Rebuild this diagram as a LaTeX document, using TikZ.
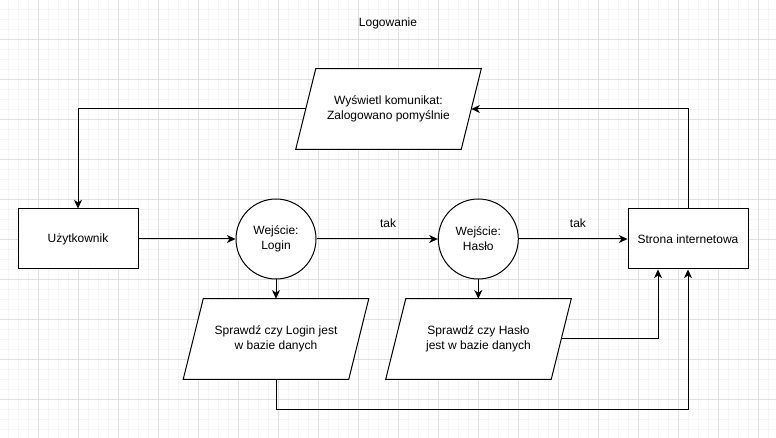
\documentclass[tikz,border=0pt]{standalone}
\usepackage{fontspec}
\setmainfont{Liberation Sans}
\usetikzlibrary{arrows.meta}
\pgfdeclarelayer{background}
\pgfsetlayers{background,main}
\begin{document}
\begin{tikzpicture}[x=0.75pt,y=-0.75pt,
  every node/.style={font=\fontsize{9}{11.25}\selectfont, text=black},
  box/.style={draw, line width=0.75pt, fill=white, minimum width=90pt, minimum height=45pt, inner sep=0pt, align=center},
  circ/.style={draw, circle, line width=0.75pt, fill=white, minimum size=60pt, inner sep=0pt, align=center},
  paracore/.style={minimum width=123.75pt, minimum height=60pt, inner sep=0pt, align=center},
  paraline/.style={draw, line width=0.75pt, fill=white},
  conn/.style={line width=0.75pt, -{Stealth[length=6.5pt,width=6pt,inset=2pt]}},
  minorline/.style={black!4, line width=0.75pt},
  majorline/.style={black!12, line width=0.75pt},
  lbl/.style={inner sep=0pt}
]
\useasboundingbox (0,0) rectangle (776,438);
\begin{pgfonlayer}{background}
  \clip (0,0) rectangle (776,438);
  \fill[white] (0,0) rectangle (776,438);
  \foreach \i in {0,...,77} \draw[minorline] (8.3+10*\i,0) -- (8.3+10*\i,438);
  \foreach \j in {0,...,43} \draw[minorline] (0,9.3+10*\j) -- (776,9.3+10*\j);
  \foreach \i in {0,...,19} \draw[majorline] (38.3+40*\i,0) -- (38.3+40*\i,438);
  \foreach \j in {0,...,10} \draw[majorline] (0,39.3+40*\j) -- (776,39.3+40*\j);
\end{pgfonlayer}

\node (title) at (388,23) {Logowanie};
\node[box] (user) at (78,239) {Użytkownik};
\node[circ] (login) at (276,239) {Wejście:\\Login};
\node[circ] (haslo) at (478.3,239) {Wejście:\\Hasło};
\node[box] (strona) at (688,239) {Strona internetowa};
\node[paracore] (msg) at (388.5,109) {Wyświetl komunikat:\\Zalogowano pomyślnie};
\node[paracore] (chklogin) at (276,339) {Sprawdź czy Login jest\\w bazie danych};
\node[paracore] (chkhaslo) at (478.5,339) {Sprawdź czy Hasło\\jest w bazie danych};

\begin{pgfonlayer}{background}
  \foreach \p in {msg,chklogin,chkhaslo}
    \draw[paraline] ([xshift=7.5pt]\p.north west) -- ([xshift=7.5pt]\p.north east)
      -- ([xshift=-7.5pt]\p.south east) -- ([xshift=-7.5pt]\p.south west) -- cycle;
\end{pgfonlayer}

\draw[conn] (user) -- (login);
\draw[conn] (login) -- node[lbl, pos=0.59, yshift=12pt] {tak} (haslo);
\draw[conn] (haslo) -- node[lbl, pos=0.544, yshift=12pt] {tak} (strona);
\draw[conn] (login.south) -- (chklogin.north);
\draw[conn] (haslo.south) -- (haslo.south |- chkhaslo.north);
\draw[conn] (chkhaslo.east) -| ([xshift=-22.5pt]strona.south);
\draw[conn] (chklogin.south) -- ++(0,30) -| (strona.south);
\draw[conn] (strona.north) |- (msg.east);
\draw[conn] (msg.west) -| (user.north);
\end{tikzpicture}
\end{document}
